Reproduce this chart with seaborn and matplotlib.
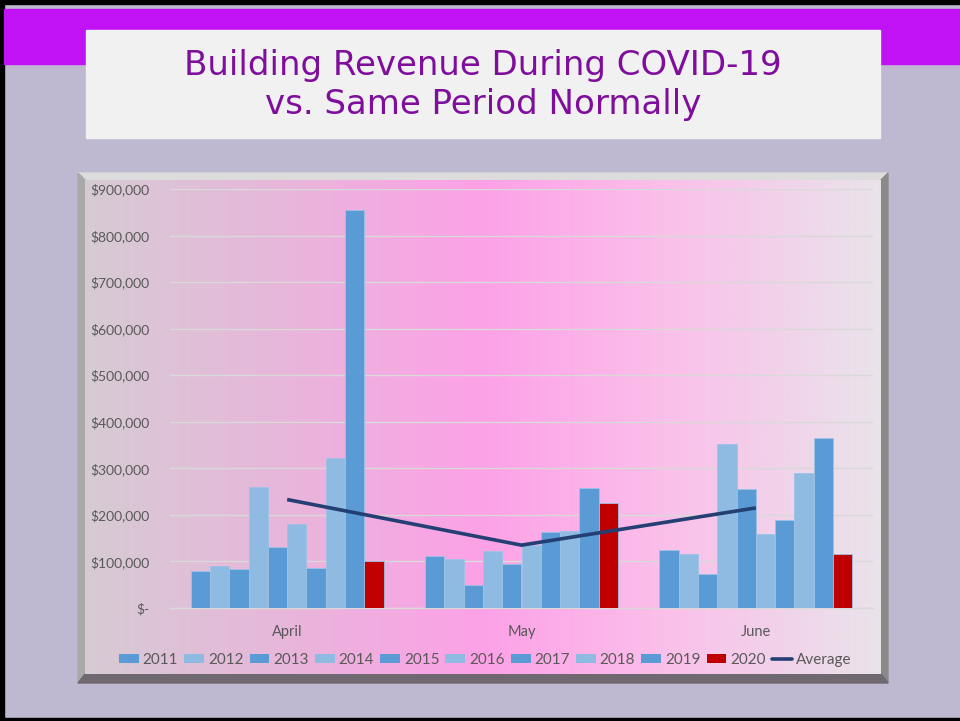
import matplotlib
matplotlib.use("Agg")
import matplotlib.pyplot as plt
from matplotlib.patches import Rectangle, Polygon, Patch
from matplotlib.lines import Line2D
from matplotlib.ticker import FuncFormatter
import matplotlib.colors as mcolors
import seaborn as sns
import pandas as pd
import numpy as np

# Datos
months = ["April", "May", "June"]
years = ["2011", "2012", "2013", "2014", "2015", "2016", "2017", "2018", "2019", "2020"]
april = [80000, 91000, 83000, 259000, 131000, 180000, 85000, 322000, 855000, 102000]
may = [111000, 105000, 49000, 122000, 94000, 135000, 164000, 165000, 258000, 226000]
june = [125000, 115000, 73000, 352000, 256000, 158000, 190000, 291000, 366000, 116000]
average = [233000, 135000, 215000]
yticks = [0, 100000, 200000, 300000, 400000, 500000, 600000, 700000, 800000, 900000]

title = "Building Revenue During COVID-19\nvs. Same Period Normally"

dark_blue = "#5B9BD5"
light_blue = "#8FBAE1"
red = "#C00000"
navy = "#243F73"
palette = {y: (dark_blue if i % 2 == 0 else light_blue) for i, y in enumerate(years)}
palette["2020"] = red

rows = []
for m, vals in zip(months, [april, may, june]):
    for y, v in zip(years, vals):
        rows.append({"month": m, "year": y, "revenue": v})
df = pd.DataFrame(rows)

sns.set_theme(style="white")
plt.rcParams["font.family"] = ["Lato", "DejaVu Sans"]

W, H = 960, 721
fig = plt.figure(figsize=(9.6, 7.21), dpi=100)
fig.patch.set_facecolor("#BEB9D1")

# Fondo / decoración en coordenadas de píxel
bg = fig.add_axes([0, 0, 1, 1])
bg.set_xlim(0, W)
bg.set_ylim(H, 0)
bg.axis("off")
bg.add_patch(Rectangle((0, 0), W, 4, color="black"))
bg.add_patch(Rectangle((0, 0), 4, H, color="black"))
bg.add_patch(Rectangle((0, 718), W, 3, color="black"))
bg.add_patch(Rectangle((4, 9), W - 4, 55, color="#C112F5"))
bg.add_patch(Rectangle((86, 30), 794, 108, color="#F1F1F1"))
bg.text(483, 85, title, ha="center", va="center", fontsize=24.5,
        color="#7F0E9C", linespacing=1.2, family=["DejaVu Sans"])

# Marco biselado del gráfico
x0, x1, y0, y1, b = 78, 888, 173, 683, 7
bg.add_patch(Polygon([(x0, y0), (x1, y0), (x1 - b, y0 + b), (x0 + b, y0 + b)], color="#DCDCDC"))
bg.add_patch(Polygon([(x0, y0), (x0 + b, y0 + b), (x0 + b, y1 - 9), (x0, y1)], color="#A9A9A9"))
bg.add_patch(Polygon([(x1, y0), (x1, y1), (x1 - b, y1 - 9), (x1 - b, y0 + b)], color="#8A8A8A"))
bg.add_patch(Polygon([(x0, y1), (x1, y1), (x1 - b, y1 - 9), (x0 + b, y1 - 9)], color="#6F6870"))

# Degradado horizontal del panel
stops = [0.0, 0.25, 0.5, 0.72, 1.0]
cols = ["#D6CBD3", "#E8B6DB", "#FDA1E7", "#FBBEEA", "#EAE3EA"]
rgb = np.array([mcolors.to_rgb(c) for c in cols])
xs = np.linspace(0, 1, 400)
grad = np.stack([np.interp(xs, stops, rgb[:, k]) for k in range(3)], axis=-1)[None, :, :]
bg.imshow(grad, extent=(x0 + b, x1 - b, y1 - 9, y0 + b), aspect="auto", zorder=1)

# Área de trazado
left, right, top, bottom = 170, 873, 189, 608
ax = fig.add_axes([left / W, 1 - bottom / H, (right - left) / W, (bottom - top) / H])
ax.patch.set_alpha(0)

sns.barplot(data=df, x="month", y="revenue", hue="year", palette=palette,
            order=months, hue_order=years, width=0.823, ax=ax, legend=False,
            saturation=1, edgecolor="#9DC3E6", linewidth=0.6, zorder=3)
ax.plot(range(len(months)), average, color=navy, lw=2.6, zorder=5,
        solid_capstyle="butt")

ax.set_xlim(-0.5, 2.5)
ax.set_ylim(0, 900000)
ax.set_yticks(yticks)
ax.yaxis.set_major_formatter(FuncFormatter(lambda v, p: "$-" if v == 0 else f"${v:,.0f}"))
ax.set_xlabel("")
ax.set_ylabel("")
ax.grid(axis="y", color="#D9D9D9", lw=1, zorder=0)
ax.set_axisbelow(True)
for s in ["top", "right", "left"]:
    ax.spines[s].set_visible(False)
ax.spines["bottom"].set_color("#D9D9D9")
ax.spines["bottom"].set_linewidth(1)
ax.tick_params(axis="y", length=0, pad=15, labelsize=10, labelcolor="#595959")
ax.tick_params(axis="x", length=0, pad=12, labelsize=10.5, labelcolor="#595959")

handles = [Patch(facecolor=palette[y], edgecolor="none", label=y) for y in years]
handles.append(Line2D([0], [0], color=navy, lw=2.6, label="Average"))
leg = fig.legend(handles=handles, loc="center", bbox_to_anchor=(485 / W, 1 - 660 / H),
                 ncol=11, frameon=False, fontsize=11, handlelength=1.3,
                 handleheight=0.55, handletextpad=0.25, columnspacing=0.4,
                 labelcolor="#595959")

fig.savefig("out.png", dpi=100)
